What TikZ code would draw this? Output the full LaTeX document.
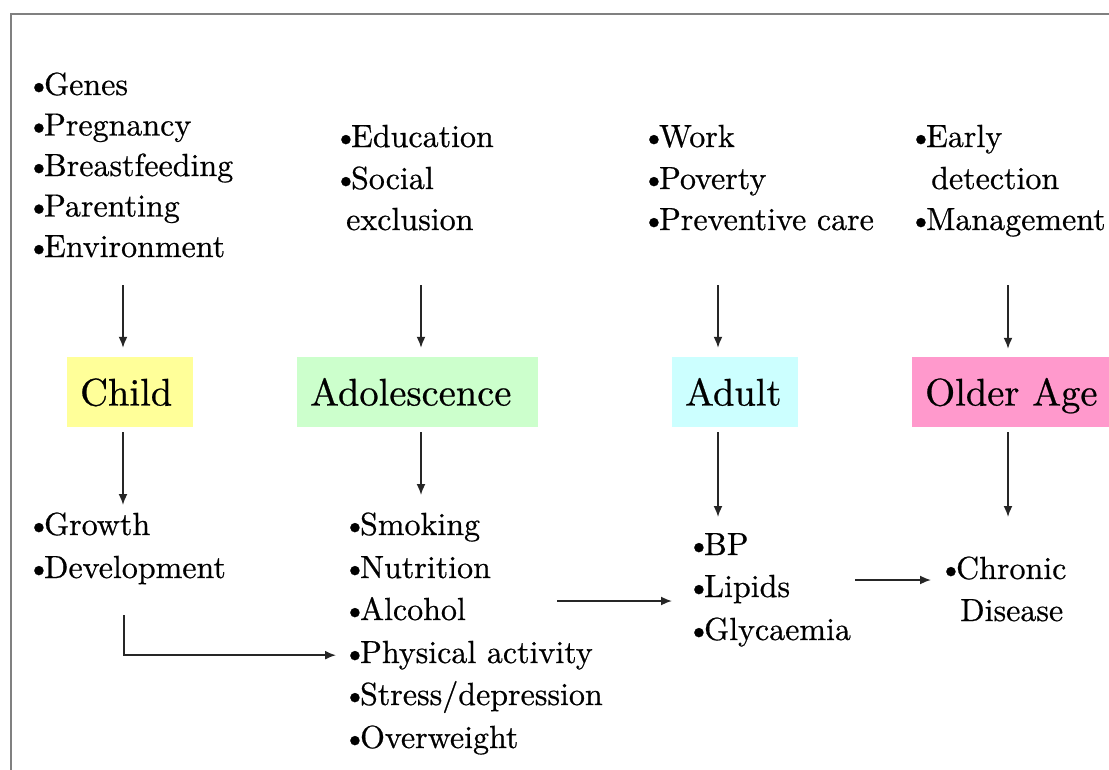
\documentclass[tikz,border=0pt]{standalone}
\usepackage{fontspec}
\newfontfamily\tnr{lmroman10-regular.otf}[FakeBold=0.6]
\usetikzlibrary{arrows.meta}
\definecolor{framegray}{HTML}{808080}
\definecolor{childc}{HTML}{FFFF99}
\definecolor{adolc}{HTML}{CCFFCC}
\definecolor{adultc}{HTML}{CCFFFF}
\definecolor{olderc}{HTML}{FF99CC}
\newcommand\bul{\makebox[0.34em][l]{\hspace{-0.21em}•}}
\tikzset{
  txt/.style={anchor=base west, inner sep=0pt, font=\tnr\fontsize{32}{38}\selectfont},
  stage/.style={anchor=west, inner xsep=13pt, inner ysep=0pt, align=left,
    minimum height=70pt, text height=27pt, text depth=0pt,
    font=\tnr\fontsize{38.5}{44}\selectfont},
  arr/.style={draw=black!85, line width=1.7pt, -{Latex[length=11pt,width=9pt]}}
}
\begin{document}
\begin{tikzpicture}[x=1pt,y=-1pt]
\useasboundingbox (0,0) rectangle (1109,769);
% frame
\draw[framegray, line width=2pt] (11,800) -- (11,14) -- (1130,14);

% top texts
\node[txt] (genes) at (33,95) {\bul Genes};
\node[txt] (preg) at (33,135.5) {\bul Pregnancy};
\node[txt] (breast) at (33,176) {\bul Breastfeeding};
\node[txt] (parent) at (33,216.5) {\bul Parenting};
\node[txt] (env) at (33,257) {\bul Environment};

\node[txt] (edu) at (340,147) {\bul Education};
\node[txt] (social) at (340,189) {\bul Social};
\node[txt] (excl) at (346,230) {exclusion};

\node[txt] (work) at (648,147) {\bul Work};
\node[txt] (pov) at (648,189) {\bul Poverty};
\node[txt] (prev) at (648,230) {\bul Preventive care};

\node[txt] (early) at (915,147) {\bul Early};
\node[txt] (detect) at (931,189) {detection};
\node[txt] (manage) at (915,230) {\bul Management};

% stage boxes
\node[stage, fill=childc, text width=100pt] (child) at (67,392) {Child};
\node[stage, fill=adolc, text width=215pt] (adol) at (297,392) {Adolescence};
\node[stage, fill=adultc, text width=100pt] (adult) at (672,392) {Adult};
\node[stage, fill=olderc, text width=200pt] (older) at (912,392) {Older Age};

% bottom texts
\node[txt] (growth) at (33,535) {\bul Growth};
\node[txt] (devel) at (33,578) {\bul Development};

\node[txt] (smoke) at (349,535) {\bul Smoking};
\node[txt] (nutr) at (349,578) {\bul Nutrition};
\node[txt] (alco) at (349,620) {\bul Alcohol};
\node[txt] (phys) at (349,663) {\bul Physical activity};
\node[txt] (stress) at (349,705) {\bul Stress/depression};
\node[txt] (overw) at (349,748) {\bul Overweight};

\node[txt] (bp) at (693,555) {\bul BP};
\node[txt] (lipids) at (693,597) {\bul Lipids};
\node[txt] (glyc) at (693,640) {\bul Glycaemia};

\node[txt] (chronic) at (945,579) {\bul Chronic};
\node[txt] (disease) at (960,621) {Disease};

% arrow end points
\coordinate (t1) at (123,285);
\coordinate (t2) at (421,285);
\coordinate (t3) at (718,285);
\coordinate (t4) at (1008,285);
\coordinate (b1) at (123,505);
\coordinate (b2) at (421,495);
\coordinate (b3) at (718,517);
\coordinate (b4) at (1008,517);
\coordinate (l1) at (124,615);
\coordinate (m1) at (557,601);
\coordinate (r1) at (855,580);

% top arrows
\draw[arr, shorten >=9pt] (t1) -- (t1 |- child.north);
\draw[arr, shorten >=9pt] (t2) -- (t2 |- adol.north);
\draw[arr, shorten >=9pt] (t3) -- (t3 |- adult.north);
\draw[arr, shorten >=8pt] (t4) -- (t4 |- older.north);

% bottom arrows
\draw[arr, shorten <=5pt] (b1 |- child.south) -- (b1);
\draw[arr, shorten <=5pt] (b2 |- adol.south) -- (b2);
\draw[arr, shorten <=5pt] (b3 |- adult.south) -- (b3);
\draw[arr, shorten <=5pt] (b4 |- older.south) -- (b4);

% horizontal arrows
\draw[arr, shorten >=13pt] (l1) |- (phys.west);
\draw[arr, shorten >=21pt] (m1) -- (m1 -| lipids.west);
\draw[arr, shorten >=14pt] (r1) -- (r1 -| chronic.west);
\end{tikzpicture}
\end{document}
